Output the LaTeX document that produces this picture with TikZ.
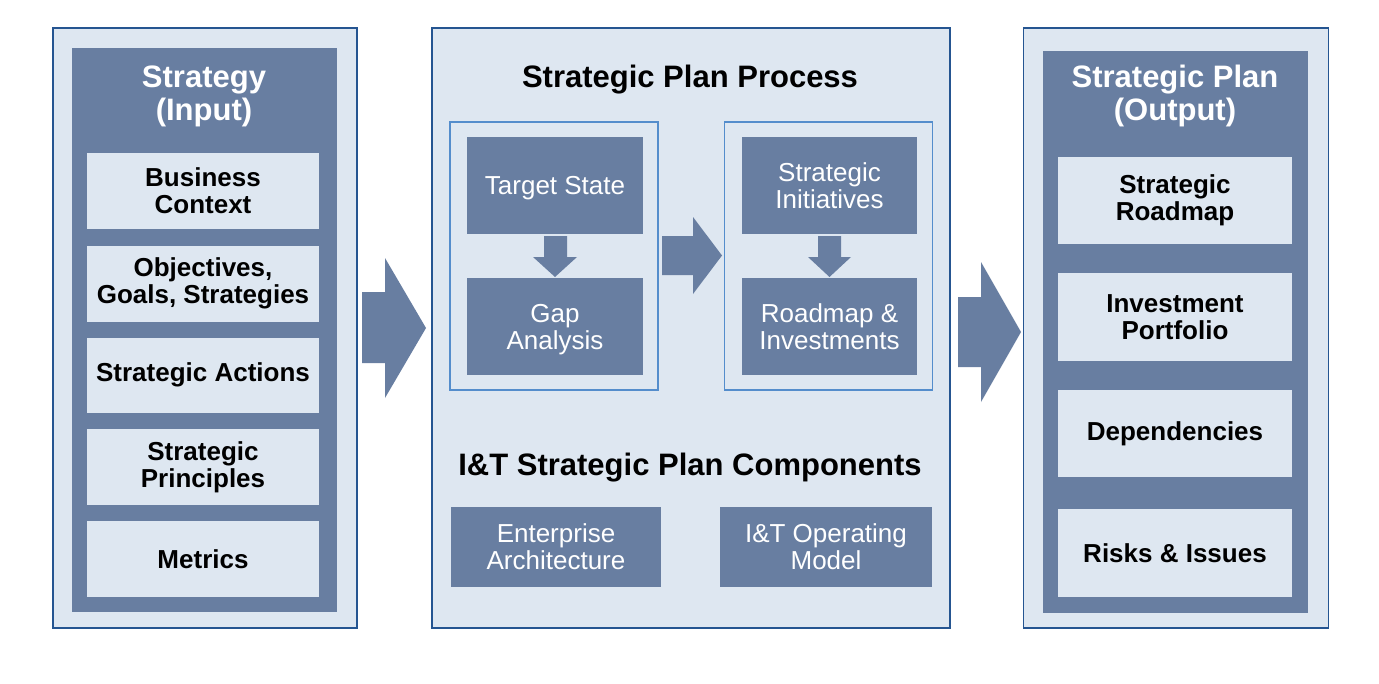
\documentclass[tikz,border=0pt]{standalone}
\usepackage{fontspec}
\setmainfont{Liberation Sans}
\usetikzlibrary{shapes}
\definecolor{darkbox}{RGB}{104,126,161}
\definecolor{lightbox}{RGB}{222,231,241}
\definecolor{panelline}{RGB}{37,85,145}
\definecolor{groupline}{RGB}{84,141,204}

\begin{document}
\begin{tikzpicture}[x=1pt,y=-1pt,
	panel/.style={rectangle,draw=panelline,fill=lightbox,line width=1.4pt,inner sep=0pt},
	column/.style={rectangle,fill=darkbox,inner sep=0pt,minimum width=265pt},
	item/.style={rectangle,fill=lightbox,inner sep=0pt,align=center,font=\fontsize{26}{27}\selectfont\bfseries},
	stepbox/.style={rectangle,fill=darkbox,inner sep=0pt,minimum width=176pt,minimum height=97pt,align=center,text=white,text depth=0pt,font=\fontsize{26}{27}\selectfont},
	group/.style={rectangle,draw=groupline,line width=1.4pt,inner sep=0pt,minimum width=208pt,minimum height=268pt},
	coltitle/.style={align=center,text=white,text depth=0pt,font=\fontsize{31}{33}\selectfont\bfseries},
	heading/.style={text depth=0pt,font=\fontsize{31}{33}\selectfont\bfseries},
	blockarrow/.style={fill=darkbox}
]
	
		\useasboundingbox[fill=white] (0,0) rectangle (1379,683);
		
		\node[panel,minimum width=304pt,minimum height=600pt] (input) at (205,328) {};
		\node[column,minimum height=564pt] (incol) at (204.5,330) {};
		\node[coltitle] (intitle) at (204,93) {Strategy\\(Input)};
		\node[item,minimum width=232pt,minimum height=76pt] (context) at (203,191) {Business\\Context};
		\node[item,minimum width=232pt,minimum height=76pt] (goals) at (203,283.5) {Objectives,\\Goals, Strategies};
		\node[item,minimum width=232pt,minimum height=75pt] (actions) at (203,375) {Strategic Actions};
		\node[item,minimum width=232pt,minimum height=76pt] (principles) at (203,467) {Strategic\\Principles};
		\node[item,minimum width=232pt,minimum height=76pt] (metrics) at (203,559) {Metrics};
		
		\node[panel,minimum width=518pt,minimum height=600pt] (process) at (691,328) {};
		\node[heading] (proctitle) at (690,76) {Strategic Plan Process};
		\node[group] (leftgroup) at (554,256) {};
		\node[group] (rightgroup) at (828.5,256) {};
		\node[stepbox] (target) at (555,185.5) {Target State};
		\node[stepbox] (gap) at (555,326.5) {Gap\\Analysis};
		\node[stepbox,minimum width=175pt] (initiatives) at (829.5,185.5) {Strategic\\Initiatives};
		\node[stepbox,minimum width=175pt] (roadmap) at (829.5,326.5) {Roadmap \&\\Investments};
		\node[heading] (comptitle) at (690,464) {I\&T Strategic Plan Components};
		\node[stepbox,minimum width=210pt,minimum height=80pt] (ea) at (556,547) {Enterprise\\Architecture};
		\node[stepbox,minimum width=212pt,minimum height=80pt] (opmodel) at (826,547) {I\&T Operating\\Model};
		
		\node[panel,minimum width=305pt,minimum height=600pt] (output) at (1176,328) {};
		\node[column,minimum height=562pt] (outcol) at (1175.5,332) {};
		\node[coltitle] (outtitle) at (1175,93) {Strategic Plan\\(Output)};
		\node[item,minimum width=234pt,minimum height=87pt] (roadmapout) at (1175,200.5) {Strategic\\Roadmap};
		\node[item,minimum width=234pt,minimum height=88pt] (portfolio) at (1175,317) {Investment\\Portfolio};
		\node[item,minimum width=234pt,minimum height=87pt] (depend) at (1175,433.5) {Dependencies};
		\node[item,minimum width=234pt,minimum height=88pt] (risks) at (1175,553) {Risks \& Issues};
		
		\fill[blockarrow] (362,292) -- (385,292) -- (385,258) -- (426,328) -- (385,398) -- (385,363) -- (362,363) -- cycle;
		\fill[blockarrow] (958,297) -- (981,297) -- (981,262) -- (1021,332) -- (981,402) -- (981,367) -- (958,367) -- cycle;
		\fill[blockarrow] (662,236) -- (693,236) -- (693,217) -- (722,255.5) -- (693,294) -- (693,275) -- (662,275) -- cycle;
		\fill[blockarrow] (544,236) -- (567,236) -- (567,257) -- (577,257) -- (555,277) -- (533,257) -- (544,257) -- cycle;
		\fill[blockarrow] (818,236) -- (841,236) -- (841,257) -- (851,257) -- (829.5,277) -- (808,257) -- (818,257) -- cycle;
		
	\end{tikzpicture}
\end{document}
